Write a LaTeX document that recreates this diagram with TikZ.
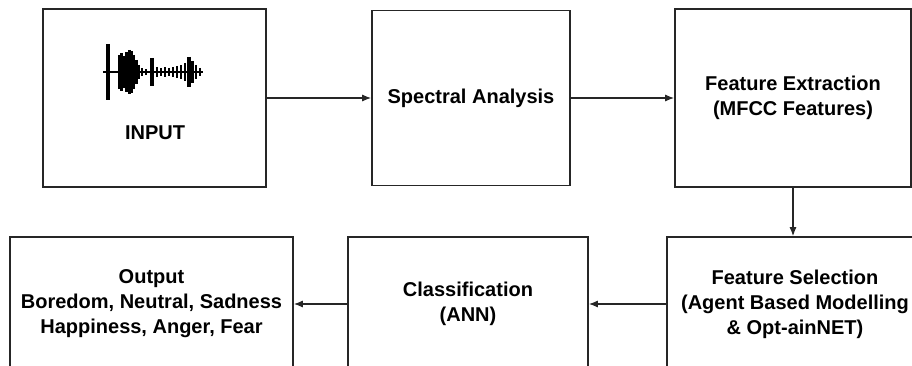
\documentclass[tikz,border=0pt]{standalone}
\usepackage{fontspec}
\setmainfont{Liberation Sans}
\usetikzlibrary{arrows.meta}

\tikzset{
    blockbox/.style={draw=black!85, line width=1.6pt, fill=white, inner sep=0pt, align=center,
        font=\bfseries\fontsize{20}{25}\selectfont},
    flowarrow/.style={-{Latex[length=9pt,width=7pt]}, line width=1.2pt, draw=black!85},
    wave/.style={line width=1.4pt, black}
}

\begin{document}
\begin{tikzpicture}[x=1pt,y=-1pt]
    \clip (0,0) rectangle (912,366);
    \fill[white] (0,0) rectangle (912,366);

    % Top row
    \node[blockbox, minimum width=223pt, minimum height=178pt] (input) at (154.5,98) {};
    \node[font=\bfseries\fontsize{20}{25}\selectfont] (inputtext) at (155,133) {INPUT};
    \node[blockbox, minimum width=198pt, minimum height=175pt] (spectral) at (471,98) {Spectral Analysis};
    \node[blockbox, minimum width=236pt, minimum height=178pt] (extract) at (793,98) {Feature Extraction\\(MFCC Features)};

    % Bottom row
    \node[blockbox, minimum width=256pt, minimum height=134pt] (select) at (795,304) {Feature Selection\\(Agent Based Modelling\\\& Opt-ainNET)};
    \node[blockbox, minimum width=240pt, minimum height=134pt] (classify) at (468,304) {Classification\\(ANN)};
    \node[blockbox, minimum width=283pt, minimum height=134pt] (output) at (151.5,304) {Output\\Boredom, Neutral, Sadness\\Happiness, Anger, Fear};

    % Waveform
    \draw[wave] (103,72) -- (203,72);
    \foreach \x/\h/\w in {108/28/4.5, 119/17/2.5, 121.5/19/2.5, 124/16/2.5, 126.5/20/3, 129/22/3, 131.5/21/3, 134/17/2.5, 136.5/12/2.5,
                          139/7/2, 142/4/2, 146/3/2, 152/14/3.5, 157/5/2, 161/4/2, 165/5/2, 169/4/2, 173/5/2,
                          177/6/2, 181/7/2, 185/9/2, 189/15/3.5, 192.5/11/2.5, 196/7/2, 200/4/2}
        \draw[wave, line width=\w pt] (\x,{72-\h}) -- (\x,{72+\h});

    % Connectors
    \draw[flowarrow] (input.east) -- (spectral.west);
    \draw[flowarrow] (spectral.east) -- (extract.west);
    \draw[flowarrow] (extract.south) -- (extract.south |- select.north);
    \draw[flowarrow] (select.west) -- (classify.east);
    \draw[flowarrow] (classify.west) -- (output.east);
\end{tikzpicture}
\end{document}
